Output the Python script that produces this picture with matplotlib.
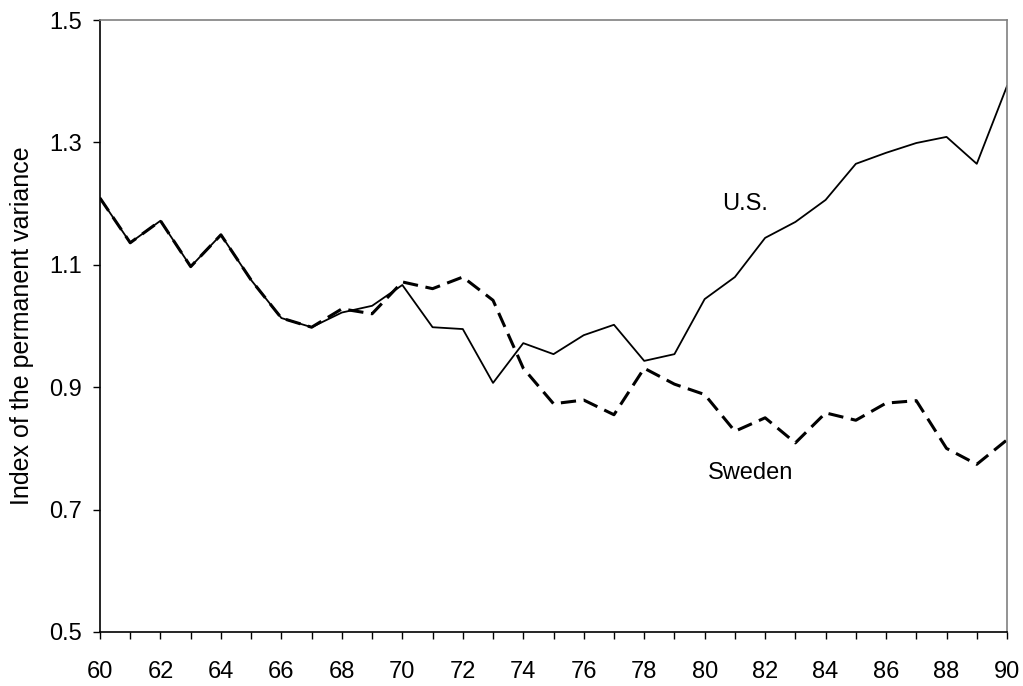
import matplotlib
matplotlib.use("Agg")
import matplotlib.pyplot as plt
import numpy as np

plt.rcParams['font.family'] = ['Liberation Sans', 'DejaVu Sans']

years = list(range(60, 91))
sweden = [1.209, 1.136, 1.172, 1.097, 1.149, 1.075, 1.013, 0.998, 1.028, 1.020,
          1.072, 1.061, 1.080, 1.042, 0.931, 0.873, 0.879, 0.855, 0.931, 0.905,
          0.888, 0.828, 0.850, 0.809, 0.858, 0.846, 0.874, 0.878, 0.800, 0.774,
          0.814]
us = [1.209, 1.136, 1.172, 1.097, 1.149, 1.075, 1.013, 0.998, 1.022, 1.033,
      1.067, 0.998, 0.995, 0.907, 0.972, 0.954, 0.985, 1.002, 0.943, 0.954,
      1.044, 1.080, 1.144, 1.170, 1.206, 1.265, 1.283, 1.299, 1.309, 1.265,
      1.392]

fig = plt.figure(figsize=(10.23, 6.86), dpi=100)
ax = fig.add_axes([100 / 1023, 54 / 686, 907 / 1023, 612 / 686])

ax.plot(years, us, color='black', lw=1.3)
ax.plot(years, sweden, color='black', lw=2.2, dashes=(5, 2.5))

ax.set_xlim(60, 90)
ax.set_ylim(0.5, 1.5)
ax.set_xticks(np.arange(60, 91, 2))
ax.set_xticks(np.arange(60, 91, 1), minor=True)
ax.set_yticks(np.arange(0.5, 1.51, 0.2))
ax.set_yticklabels(['0.5', '0.7', '0.9', '1.1', '1.3', '1.5'])

ax.tick_params(axis='both', which='both', direction='out', length=5, width=1,
               labelsize=17, color='black')
ax.tick_params(axis='x', which='major', pad=16)
ax.tick_params(axis='y', pad=8)

ax.spines['top'].set_color('#808080')
ax.spines['right'].set_color('#808080')
ax.spines['top'].set_linewidth(1.2)
ax.spines['right'].set_linewidth(1.2)
ax.spines['left'].set_linewidth(1.2)
ax.spines['bottom'].set_linewidth(1.2)

ax.set_ylabel('Index of the permanent variance', fontsize=18, labelpad=11)

ax.text(81.35, 1.199, 'U.S.', fontsize=17, ha='center', va='center')
ax.text(81.53, 0.760, 'Sweden', fontsize=17, ha='center', va='center')

fig.savefig('out.png', dpi=100)
